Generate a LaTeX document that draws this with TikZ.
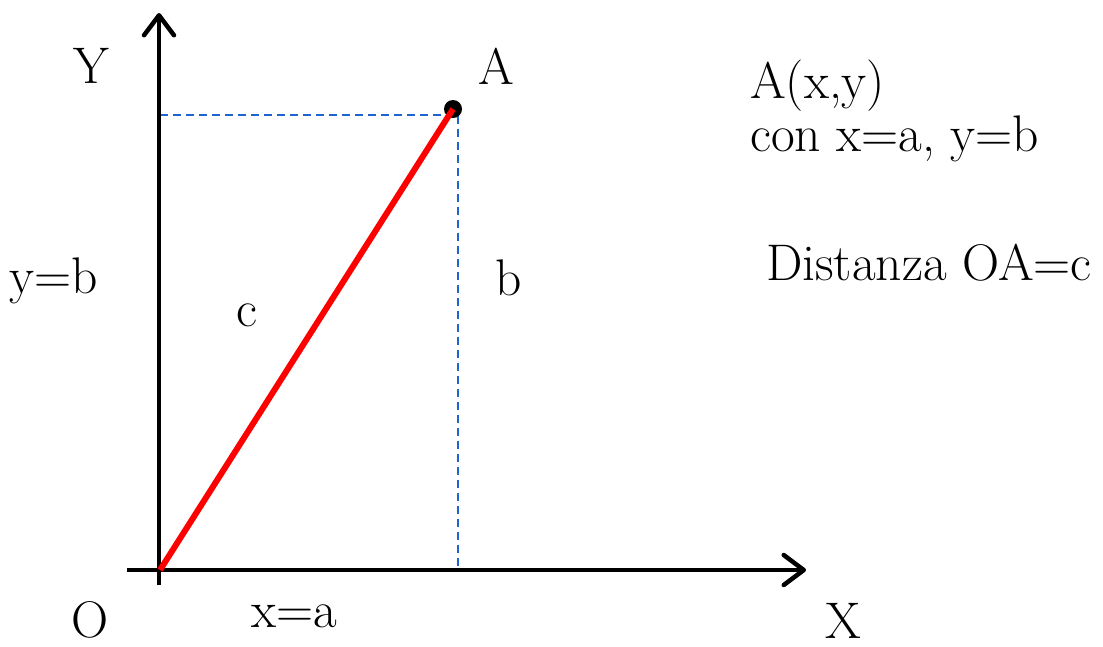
\documentclass[tikz,border=0pt]{standalone}
\usetikzlibrary{arrows.meta}
\definecolor{dashblue}{HTML}{1F63D0}
\definecolor{segred}{HTML}{FF0000}
\tikzset{
  axis/.style={line width=4.5pt,-{Straight Barb[length=20pt,width=30pt,line width=4.5pt,line cap=round,round]}},
  lbl/.style={anchor=base west,inner sep=0pt,font=\fontsize{51.5}{55}\selectfont},
  guide/.style={dashblue,line width=1.8pt,dash pattern=on 8pt off 5pt},
}
\begin{document}
\begin{tikzpicture}[x=1pt,y=-1pt]
\useasboundingbox (0,0) rectangle (1103,646);
\coordinate (O) at (160,570);
\coordinate (xs) at (127,570);
\coordinate (xe) at (806,570);
\coordinate (ys) at (159,585);
\coordinate (ye) at (159,13);
\coordinate (Ay) at (160,115);
\coordinate (Ab) at (458,570);
\coordinate (Ac) at (458,115);
\draw[guide] (Ay) -- (Ac) -- (Ab);
\draw[axis] (xs) -- (xe);
\draw[axis] (ys) -- (ye);
\node[circle,fill=black,inner sep=0pt,minimum size=18pt] (A) at (453,109) {};
\draw[segred,line width=6pt] (O) -- (A.center);
\node[lbl] (tY) at (73,83) {Y};
\node[lbl] (tA) at (478,84) {A};
\node[lbl] (t1) at (750,98) {A(x,y)};
\node[lbl] (t2) at (750,151) {con x=a, y=b};
\node[lbl] (t3) at (766,280) {Distanza OA=c};
\node[lbl] (tyb) at (9,293) {y=b};
\node[lbl] (tc) at (236,326) {c};
\node[lbl] (tb) at (495,295) {b};
\node[lbl] (tO) at (71,637) {O};
\node[lbl] (txa) at (251,627) {x=a};
\node[lbl] (tX) at (825,638) {X};
\end{tikzpicture}
\end{document}
